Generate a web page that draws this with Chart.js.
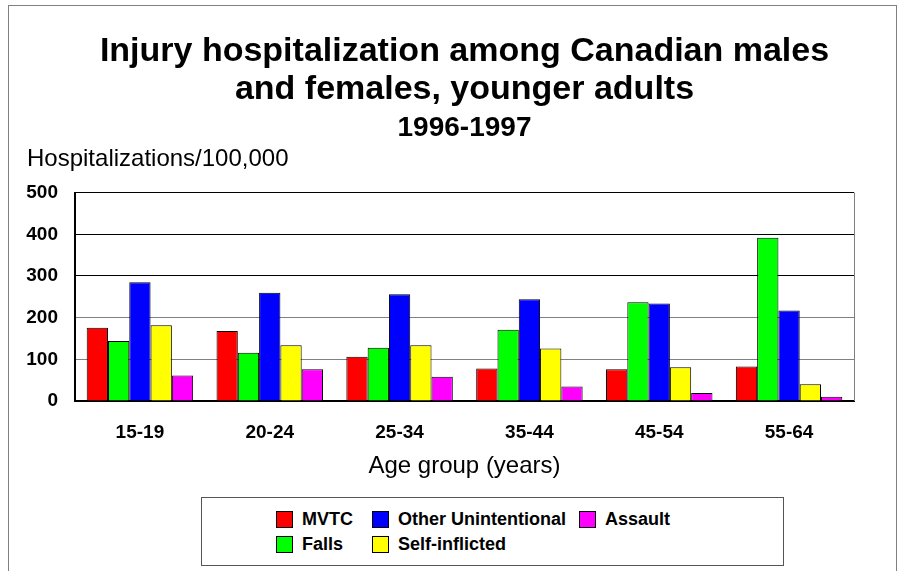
<!DOCTYPE html>
<html>
<head>
<meta charset="utf-8">
<script src="https://cdn.jsdelivr.net/npm/chart.js@4.4.1/dist/chart.umd.min.js"></script>
<style>
  html, body { margin: 0; padding: 0; background: #fff; }
  body { width: 899px; height: 571px; position: relative; overflow: hidden; font-family: "Liberation Sans", Arial, sans-serif; }
  #frame { position: absolute; left: 8px; top: 5px; width: 889px; height: 600px; border: 1px solid #808080; box-sizing: border-box; }
  #wrap { position: absolute; left: 0; top: 0; width: 899px; height: 571px; }
  #yTitle { position: absolute; left: 27px; top: 144px; font-size: 24px; color: #000; white-space: nowrap; }
  #legend { position: absolute; left: 201px; top: 497px; width: 583px; height: 69px; border: 1px solid #555; box-sizing: border-box; background: #fff; }
  .item { position: absolute; display: flex; align-items: center; font-weight: bold; font-size: 18px; white-space: nowrap; }
  .swatch { width: 15px; height: 15px; border: 1px solid #000; margin-right: 9px; }
</style>
</head>
<body>
<div id="frame"></div>
<div id="wrap"><canvas id="chart" width="899" height="571"></canvas></div>
<div id="yTitle">Hospitalizations/100,000</div>
<div id="legend"></div>
<script>
const ageGroups = ["15-19", "20-24", "25-34", "35-44", "45-54", "55-64"];
const mvtc = [176, 168, 106, 78, 76, 83];
const falls = [144, 116, 128, 171, 237, 392];
const otherUnintentional = [285, 260, 256, 244, 234, 217];
const selfInflicted = [182, 134, 134, 126, 81, 40];
const assault = [61, 76, 58, 35, 19, 10];
const yTicks = [0, 100, 200, 300, 400, 500];

const seriesLabels = ["MVTC", "Falls", "Other Unintentional", "Self-inflicted", "Assault"];
const seriesData = [mvtc, falls, otherUnintentional, selfInflicted, assault];
const seriesColors = ["#ff0000", "#00ff00", "#0000ff", "#ffff00", "#ff00ff"];

const FONT = "'Liberation Sans', Arial, sans-serif";

// right edge of the plot is a grey line
const plotFrame = {
  id: "plotFrame",
  afterDraw(chart) {
    const { ctx, chartArea } = chart;
    ctx.save();
    ctx.strokeStyle = "#808080";
    ctx.lineWidth = 1;
    ctx.beginPath();
    ctx.moveTo(chartArea.right + 0.5, chartArea.top);
    ctx.lineTo(chartArea.right + 0.5, chartArea.bottom);
    ctx.stroke();
    ctx.restore();
  },
};

new Chart(document.getElementById("chart"), {
  type: "bar",
  data: {
    labels: ageGroups,
    datasets: seriesLabels.map((label, i) => ({
      label: label,
      data: seriesData[i],
      backgroundColor: seriesColors[i],
      borderColor: "#000",
      borderWidth: 1,
      categoryPercentage: 0.82,
      barPercentage: 1,
    })),
  },
  options: {
    responsive: false,
    animation: false,
    layout: { padding: { left: 0, right: 45, top: 0, bottom: 90 } },
    plugins: {
      legend: { display: false },
      tooltip: { enabled: false },
      title: {
        display: true,
        fullSize: false,
        text: ["Injury hospitalization among Canadian males", "and females, younger adults"],
        color: "#000",
        font: { family: FONT, size: 34, weight: "bold", lineHeight: 1.118 },
        padding: { top: 33, bottom: 0 },
      },
      subtitle: {
        display: true,
        fullSize: false,
        text: "1996-1997",
        color: "#000",
        font: { family: FONT, size: 28, weight: "bold", lineHeight: 1.2 },
        padding: { top: 2, bottom: 48 },
      },
    },
    scales: {
      x: {
        afterFit(scale) { scale.height = 80; },
        grid: { display: false, drawTicks: false },
        border: { color: "#000", width: 2 },
        ticks: { color: "#000", padding: 20, font: { family: FONT, size: 19, weight: "bold" } },
        title: {
          display: true,
          text: "Age group (years)",
          color: "#000",
          font: { family: FONT, size: 24 },
          padding: { top: 10, bottom: 0 },
        },
      },
      y: {
        min: 0,
        max: 500,
        afterBuildTicks(scale) { scale.ticks = yTicks.map((v) => ({ value: v })); },
        afterFit(scale) { scale.width = 75; },
        grid: {
          drawTicks: false,
          color: (c) => (c.tick && c.tick.value >= 300 ? "#000" : "#808080"),
          lineWidth: 1,
        },
        border: { color: "#000", width: 2 },
        ticks: { color: "#000", padding: 17, font: { family: FONT, size: 19, weight: "bold" } },
      },
    },
  },
  plugins: [plotFrame],
});

// legend box, filled column by column
const legendCols = [74, 170, 377];
const legendRows = [11, 36];
const legend = document.getElementById("legend");
seriesLabels.forEach((label, i) => {
  const item = document.createElement("div");
  item.className = "item";
  item.style.left = legendCols[Math.floor(i / 2)] + "px";
  item.style.top = legendRows[i % 2] + "px";
  item.innerHTML = `<span class="swatch" style="background:${seriesColors[i]}"></span><span>${label}</span>`;
  legend.appendChild(item);
});
</script>
</body>
</html>
